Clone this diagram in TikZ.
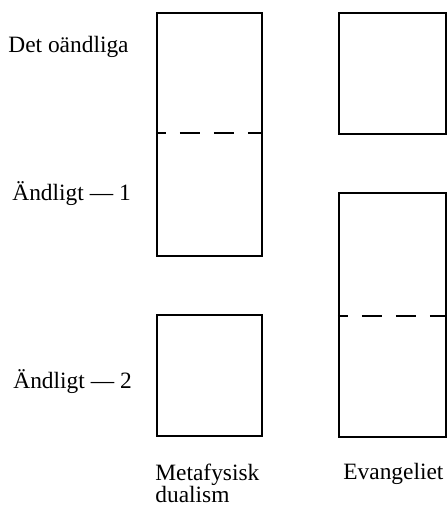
\documentclass[tikz,border=0pt]{standalone}
\usepackage{fontspec}
\setmainfont{Liberation Serif}
\usetikzlibrary{positioning}

\begin{document}
\begin{tikzpicture}[
    x=0.5pt, y=-0.5pt,
    box/.style={rectangle, draw, line width=1pt, inner sep=0pt},
    lab/.style={anchor=base west, inner sep=0pt, font=\fontsize{11.7}{14}\selectfont},
    cut/.style={line width=1pt, dash pattern=on 10pt off 7pt, dash phase=5pt}
]
    \useasboundingbox (0,0) rectangle (447,505);

    % Metafysisk dualism
    \node[box, minimum width=52.5pt, minimum height=121.5pt] (upL) at (209.5,134.5) {};
    \node[box, minimum width=52.5pt, minimum height=60.5pt] (lowL) at (209.5,375.5) {};

    % Evangeliet
    \node[box, minimum width=53.5pt, minimum height=60.5pt] (upR) at (392.5,73.5) {};
    \node[box, minimum width=53.5pt, minimum height=122pt] (lowR) at (392.5,315) {};

    % dividing lines
    \coordinate (cutL) at (0,133);
    \coordinate (cutR) at (0,316);
    \draw[cut] (upL.west |- cutL) -- (upL.east |- cutL);
    \draw[cut] (lowR.west |- cutR) -- (lowR.east |- cutR);

    % levels
    \node[lab] (inf) at (8,52) {Det oändliga};
    \node[lab] (fin1) at (12,200) {Ändligt — 1};
    \node[lab] (fin2) at (13,388) {Ändligt — 2};

    % columns
    \node[lab] (meta) at (155,480) {Metafysisk};
    \node[lab, below=11pt of meta.base west, anchor=base west] (dual) {dualism};
    \node[lab] (evang) at (343,479) {Evangeliet};
\end{tikzpicture}
\end{document}
